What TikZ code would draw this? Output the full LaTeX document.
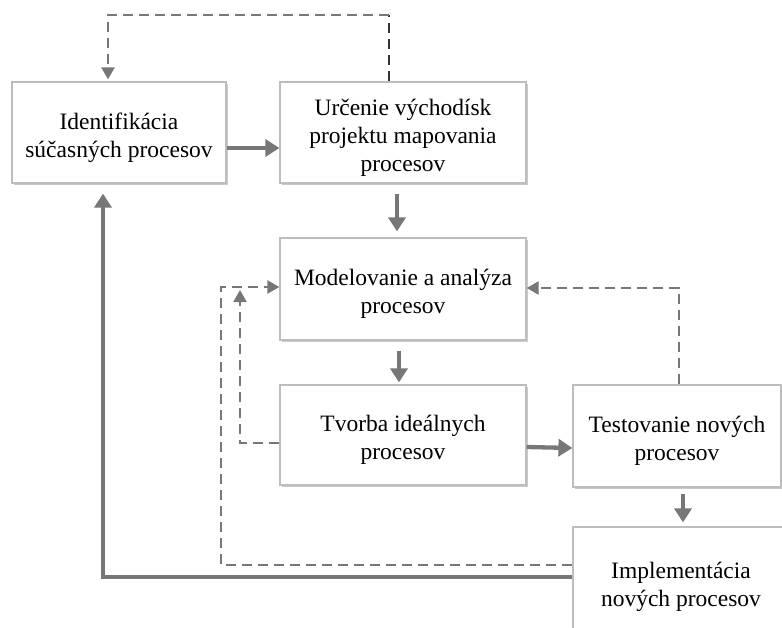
\documentclass[tikz,border=0pt]{standalone}
\usepackage{fontspec}
\setmainfont{Liberation Serif}
\usetikzlibrary{arrows.meta,calc,shadows}
\definecolor{linegray}{HTML}{777777}
\definecolor{boxgray}{HTML}{BDBDBD}
\definecolor{darkdash}{HTML}{333333}
\newcommand\boxtext[1]{\raisebox{-5pt}[\height][\depth]{\begin{tabular}{@{}c@{}}#1\end{tabular}}}
\begin{document}
\begin{tikzpicture}[x=1pt,y=-1pt,
  procbox/.style={draw=boxgray, line width=1.2pt, fill=white, align=center,
    inner sep=0pt, font=\fontsize{23.5}{28}\selectfont,
    drop shadow={shadow xshift=1.8pt, shadow yshift=-1.8pt, opacity=0.35, fill=black!60}},
  flow/.style={draw=linegray, line width=4.3pt, -{Triangle[length=14pt,width=17pt]}},
  back/.style={draw=linegray, line width=2.3pt, dash pattern=on 10pt off 6pt},
  backarrow/.style={back, -{Triangle[length=12pt,width=13pt]}}
]
\useasboundingbox (0,0) rectangle (782,627);
\begin{scope}
\clip (0,0) rectangle (782,627);
\node[procbox, minimum width=214pt, minimum height=101pt] (b1) at (119,132.5) {\boxtext{Identifikácia\\súčasných procesov}};
\node[procbox, minimum width=246pt, minimum height=101pt] (b2) at (403,132.5) {\boxtext{Určenie východísk\\projektu mapovania\\procesov}};
\node[procbox, minimum width=246pt, minimum height=102pt] (b3) at (403,289) {\boxtext{Modelovanie a analýza\\procesov}};
\node[procbox, minimum width=246pt, minimum height=100pt] (b4) at (403,435) {\boxtext{Tvorba ideálnych\\procesov}};
\node[procbox, minimum width=208pt, minimum height=102pt] (b5) at (677,436) {\boxtext{Testovanie nových\\procesov}};
\node[procbox, minimum width=216pt, minimum height=110pt] (b6) at (681,582) {\boxtext{Implementácia\\nových procesov}};
\end{scope}

% solid flow arrows
\draw[flow] ($(b1.east)+(0,15.5)$) -- ($(b2.west)+(0,15.5)$);
\draw[flow] ($(b2.south)+(-6,10)$) -- ($(b3.north)+(-6,-6)$);
\draw[flow] ($(b3.south)+(-4,10)$) -- ($(b4.north)+(-4,-2)$);
\draw[flow] ($(b4.east)+(0,12)$) -- ($(b5.west)+(0,12)$);
\draw[flow] ($(b5.south)+(6,6)$) -- ($(b6.north)+(2,-4)$);
\coordinate (c6) at (103,577);
\draw[flow] ($(b6.west)+(0,-5)$) -- (c6) -- ($(b1.south)+(-16,10)$);

% dashed feedback arrows
\coordinate (d1) at (221,565);
\coordinate (d2) at (221,287);
\draw[backarrow] ($(b6.west)+(0,-17)$) -- (d1) -- (d2) -- ($(b3.west)+(0,-2)$);
\coordinate (e1) at (240,443);
\draw[backarrow] ($(b4.west)+(0,8)$) -- (e1) -- (240,290);
\coordinate (f1) at (679,288);
\draw[backarrow] ($(b5.north)+(2,0)$) -- (f1) -- ($(b3.east)+(0,-1)$);
\coordinate (g1) at (389,15);
\draw[back, draw=darkdash] ($(b2.north)+(-14,0)$) -- (g1);
\draw[backarrow] (g1) -| ($(b1.north)+(-11,-2)$);
\end{tikzpicture}
\end{document}
